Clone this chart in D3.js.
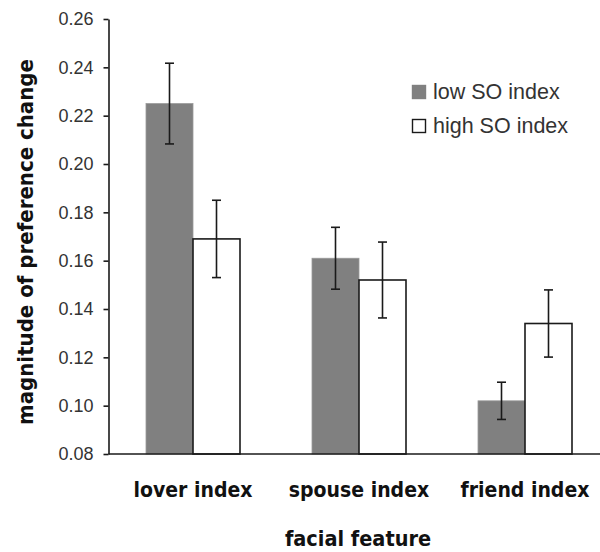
<!DOCTYPE html>
<html><head><meta charset="utf-8">
<script src="https://cdn.jsdelivr.net/npm/d3@7"></script>
<style>body{margin:0;background:#fff}</style>
</head><body>
<svg id="c" width="600" height="552"></svg>
<script>
const categories = ["lover index", "spouse index", "friend index"];
const seriesNames = ["low SO index", "high SO index"];
const lowValues = [0.225, 0.161, 0.102];
const lowErrors = [0.0167, 0.0128, 0.0077];
const highValues = [0.169, 0.152, 0.134];
const highErrors = [0.016, 0.0157, 0.0139];
const yTicks = [0.08, 0.10, 0.12, 0.14, 0.16, 0.18, 0.20, 0.22, 0.24, 0.26];

const svg = d3.select("#c");
const x0 = 108.5, yTop = 19, yBot = 454;
const y = d3.scaleLinear().domain([0.08, 0.26]).range([yBot, yTop]);
const x = d3.scaleBand().domain(categories).range([110, 608]).paddingInner(0).paddingOuter(0);
const xs = d3.scaleBand().domain(seriesNames).range([0, 94]);
const fills = ["#808080", "#ffffff"];
const vals = [lowValues, highValues];
const errs = [lowErrors, highErrors];

const data = [];
categories.forEach((c, i) => seriesNames.forEach((s, j) => data.push({c, s, j, v: vals[j][i], e: errs[j][i]})));

const gx = c => x(c) + x.bandwidth() / 2 - 47;

svg.selectAll("rect.bar").data(data).enter().append("rect")
  .attr("x", d => gx(d.c) + xs(d.s))
  .attr("y", d => y(d.v))
  .attr("width", xs.bandwidth())
  .attr("height", d => yBot - y(d.v))
  .attr("fill", d => fills[d.j])
  .attr("stroke", d => d.j ? "#1a1a1a" : "#999")
  .attr("stroke-width", d => d.j ? 1.6 : 0.8);

// error bars
const eb = svg.selectAll("g.eb").data(data).enter().append("g").attr("stroke", "#1a1a1a").attr("stroke-width", 1.6);
eb.append("line").attr("x1", d => gx(d.c) + xs(d.s) + xs.bandwidth()/2).attr("x2", d => gx(d.c) + xs(d.s) + xs.bandwidth()/2)
  .attr("y1", d => y(d.v + d.e)).attr("y2", d => y(d.v - d.e));
eb.append("line").attr("x1", d => gx(d.c) + xs(d.s) + xs.bandwidth()/2 - 4.5).attr("x2", d => gx(d.c) + xs(d.s) + xs.bandwidth()/2 + 4.5)
  .attr("y1", d => y(d.v + d.e)).attr("y2", d => y(d.v + d.e));
eb.append("line").attr("x1", d => gx(d.c) + xs(d.s) + xs.bandwidth()/2 - 4.5).attr("x2", d => gx(d.c) + xs(d.s) + xs.bandwidth()/2 + 4.5)
  .attr("y1", d => y(d.v - d.e)).attr("y2", d => y(d.v - d.e));

// y axis
const ya = svg.append("g").attr("transform", `translate(${x0},0)`)
  .call(d3.axisLeft(y).tickValues(yTicks).tickFormat(d3.format(".2f")).tickSize(5).tickSizeOuter(0).tickPadding(10));
ya.select(".domain").attr("stroke", "#1a1a1a").attr("stroke-width", 1.6);
ya.selectAll(".tick line").attr("stroke", "#1a1a1a").attr("stroke-width", 1.6);
ya.selectAll(".tick text").attr("font-family", "'Liberation Sans', Arial, sans-serif").attr("font-size", 18).attr("fill", "#333");

// x axis
const xa = svg.append("g").attr("transform", `translate(0,${yBot})`)
  .call(d3.axisBottom(x).tickSize(0).tickPadding(0));
xa.select(".domain").remove();
xa.selectAll(".tick text").remove();
svg.append("line").attr("x1", x0).attr("x2", 600).attr("y1", yBot).attr("y2", yBot).attr("stroke", "#1a1a1a").attr("stroke-width", 1.6);

const boldFont = "'DejaVu Sans Condensed', 'DejaVu Sans', sans-serif";
svg.selectAll("text.cat").data(categories).enter().append("text")
  .attr("x", d => x(d) + x.bandwidth()/2).attr("y", 497)
  .attr("text-anchor", "middle").attr("font-family", boldFont).attr("font-weight", "bold")
  .attr("font-size", 21).attr("fill", "#111").text(d => d);

svg.append("text").attr("x", 358).attr("y", 546).attr("text-anchor", "middle")
  .attr("font-family", boldFont).attr("font-weight", "bold").attr("font-size", 21.5).attr("fill", "#111")
  .text("facial feature");

svg.append("text").attr("transform", "translate(33,242) rotate(-90)").attr("text-anchor", "middle")
  .attr("font-family", boldFont).attr("font-weight", "bold").attr("font-size", 22).attr("fill", "#111")
  .text("magnitude of preference change");

// legend
const lg = svg.selectAll("g.lg").data(seriesNames).enter().append("g")
  .attr("transform", (d, i) => `translate(412,${85 + i * 34})`);
lg.append("rect").attr("x", 0.5).attr("y", 0.5).attr("width", 13).attr("height", 13)
  .attr("fill", (d, i) => fills[i]).attr("stroke", (d, i) => i ? "#1a1a1a" : "#808080").attr("stroke-width", 1.4);
lg.append("text").attr("x", 21).attr("y", 14).attr("font-family", "'Liberation Sans', Arial, sans-serif")
  .attr("font-size", 21.5).attr("fill", "#333").text(d => d);
</script>
</body></html>
